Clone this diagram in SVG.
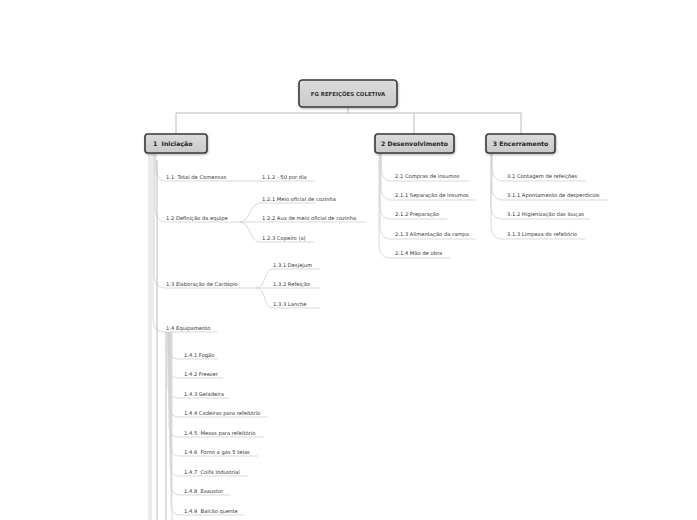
<svg xmlns="http://www.w3.org/2000/svg" width="697" height="520" viewBox="0 0 697 520">
<defs>
<filter id="sh" x="-20%" y="-20%" width="140%" height="160%"><feDropShadow dx="0.5" dy="1" stdDeviation="0.8" flood-color="#000" flood-opacity="0.3"/></filter>
<linearGradient id="g" x1="0" y1="0" x2="0" y2="1"><stop offset="0" stop-color="#dcdcdc"/><stop offset="1" stop-color="#c9c9c9"/></linearGradient>
</defs>
<style>
text{white-space:pre}
.box{fill:url(#g);stroke:#3a3a3a;stroke-width:1.6;filter:url(#sh)}
.t0{font-family:"DejaVu Sans",Verdana,sans-serif;font-weight:bold;font-size:5.4px;fill:#333}
.t1{font-family:"DejaVu Sans",Verdana,sans-serif;font-weight:bold;font-size:6.2px;fill:#222}
.t2{font-family:"DejaVu Sans",Verdana,sans-serif;font-size:5.2px;fill:#333}
.c{fill:none;stroke:#cfcfcf;stroke-width:0.8}
.cd{fill:none;stroke:#a8a8a8;stroke-width:0.8}
</style>
<rect width="697" height="520" fill="#fff"/>
<g id="connectors">
<path class="cd" d="M348 107 V113 M176 134 V113 H521 V134 M414 113 V134"/>
<path class="c" d="M156 153 V166 C156 175 158 181 166 181 H315"/>
<path class="c" d="M155 153 V205 C155 215 157 222 166 222 H240"/>
<path class="c" d="M154 153 V272 C154 282 156 288 166 288 H256"/>
<path class="c" d="M153 153 V316 C153 326 155 332 164 332 H217"/>
<path class="c" d="M149 153 V520"/>
<path class="c" d="M151 153 V520"/>
<path class="cd" d="M157 160 V520"/>
<path class="c" d="M240 222 C250 222 250 203 260 203 H315"/>
<path class="c" d="M240 222 H366"/>
<path class="c" d="M240 222 C250 222 250 242 260 242 H314"/>
<path class="c" d="M256 288 C266 288 264 269 272 269 H320"/>
<path class="c" d="M256 288 H320"/>
<path class="c" d="M256 288 C266 288 264 308 272 308 H320"/>
<path class="cd" d="M166 332 V520"/>
<path class="c" d="M168 332 V348 C168 355 171 359 180 359 H218"/>
<path class="c" d="M168 332 V367 C168 374 171 378 180 378 H223"/>
<path class="c" d="M168 332 V387 C168 394 171 398 180 398 H229"/>
<path class="c" d="M169 332 V406 C169 413 172 417 180 417 H268"/>
<path class="c" d="M169 332 V426 C169 433 172 437 180 437 H264"/>
<path class="c" d="M170 332 V445 C170 452 173 456 180 456 H258"/>
<path class="c" d="M170 332 V465 C170 472 173 476 180 476 H248"/>
<path class="c" d="M171 332 V484 C171 491 174 495 180 495 H231"/>
<path class="c" d="M171 332 V504 C171 511 174 515 180 515 H244"/>
<path class="c" d="M172 332 V520"/>
<path class="c" d="M381 153 V166 C381 175 384 181 391 181 H469"/>
<path class="c" d="M381 153 V186 C381 195 384 200 391 200 H476"/>
<path class="c" d="M380 153 V205 C380 214 383 219 391 219 H447"/>
<path class="c" d="M380 153 V225 C380 234 383 239 391 239 H476"/>
<path class="c" d="M379 153 V244 C379 253 382 258 391 258 H451"/>
<path class="c" d="M492 153 V166 C492 175 495 181 503 181 H586"/>
<path class="c" d="M492 153 V186 C492 195 495 200 503 200 H607"/>
<path class="c" d="M491 153 V205 C491 214 494 219 503 219 H590"/>
<path class="c" d="M491 153 V225 C491 234 494 239 503 239 H585"/>
</g>
<g id="root"><rect class="box" x="299" y="80" width="98" height="27" rx="3.5"/><text class="t0" x="348" y="95.5" text-anchor="middle">FG REFEIÇÕES COLETIVA</text></g>
<g id="n1"><rect class="box" x="145" y="134" width="62" height="19" rx="3"/><text class="t1" x="153" y="146" font-size="6.8px">1  Iniciação</text></g>
<g id="n2"><rect class="box" x="375" y="134" width="79" height="19" rx="3"/><text class="t1" x="414.5" y="146" text-anchor="middle">2 Desenvolvimento</text></g>
<g id="n3"><rect class="box" x="486" y="134" width="69" height="19" rx="3"/><text class="t1" x="520.5" y="146" text-anchor="middle">3 Encerramento</text></g>
<g id="n11"><text class="t2" x="166" y="179">1.1  Total de Comensas</text></g>
<g id="n112"><text class="t2" x="262" y="179">1.1.2 - 50 por dia</text></g>
<g id="n12"><text class="t2" x="166" y="220">1.2 Definição da equipe</text></g>
<g id="n121"><text class="t2" x="262" y="201">1.2.1 Meio oficial de cozinha</text></g>
<g id="n122"><text class="t2" x="262" y="220">1.2.2 Aux de meio oficial de cozinha</text></g>
<g id="n123"><text class="t2" x="262" y="240">1.2.3 Copeiro (a)</text></g>
<g id="n13"><text class="t2" x="166" y="286">1.3 Elaboração de Cardápio</text></g>
<g id="n131"><text class="t2" x="273" y="267">1.3.1 Desjejum</text></g>
<g id="n132"><text class="t2" x="273" y="286">1.3.2 Refeição</text></g>
<g id="n133"><text class="t2" x="273" y="306">1.3.3 Lanche</text></g>
<g id="n14"><text class="t2" x="166" y="330">1.4 Equipamento</text></g>
<g id="n141"><text class="t2" x="184" y="357">1.4.1 Fogão</text></g>
<g id="n142"><text class="t2" x="184" y="376">1.4.2 Freezer</text></g>
<g id="n143"><text class="t2" x="184" y="396">1.4.3 Geladeira</text></g>
<g id="n144"><text class="t2" x="184" y="415">1.4.4 Cadeiras para refeitório</text></g>
<g id="n145"><text class="t2" x="184" y="435">1.4.5  Mesas para refeitório</text></g>
<g id="n146"><text class="t2" x="184" y="454">1.4.6  Forno a gás 5 telas</text></g>
<g id="n147"><text class="t2" x="184" y="474">1.4.7  Coifa Industrial</text></g>
<g id="n148"><text class="t2" x="184" y="493">1.4.8  Exaustor</text></g>
<g id="n149"><text class="t2" x="184" y="513">1.4.9  Balcão quente</text></g>
<g id="n21"><text class="t2" x="395" y="178">2.1 Compras de insumos</text></g>
<g id="n211"><text class="t2" x="395" y="197">2.1.1 Separação de insumos</text></g>
<g id="n212"><text class="t2" x="395" y="216">2.1.2 Preparação</text></g>
<g id="n213"><text class="t2" x="395" y="236">2.1.3 Alimentação da rampa</text></g>
<g id="n214"><text class="t2" x="395" y="255">2.1.4 Mão de obra</text></g>
<g id="n31"><text class="t2" x="507" y="178">3.1 Contagem de refeições</text></g>
<g id="n311"><text class="t2" x="507" y="197">3.1.1 Apontamento de desperdícios</text></g>
<g id="n312"><text class="t2" x="507" y="216">3.1.2 Higienização das louças</text></g>
<g id="n313"><text class="t2" x="507" y="236">3.1.3 Limpeza do refeitório</text></g>
</svg>
